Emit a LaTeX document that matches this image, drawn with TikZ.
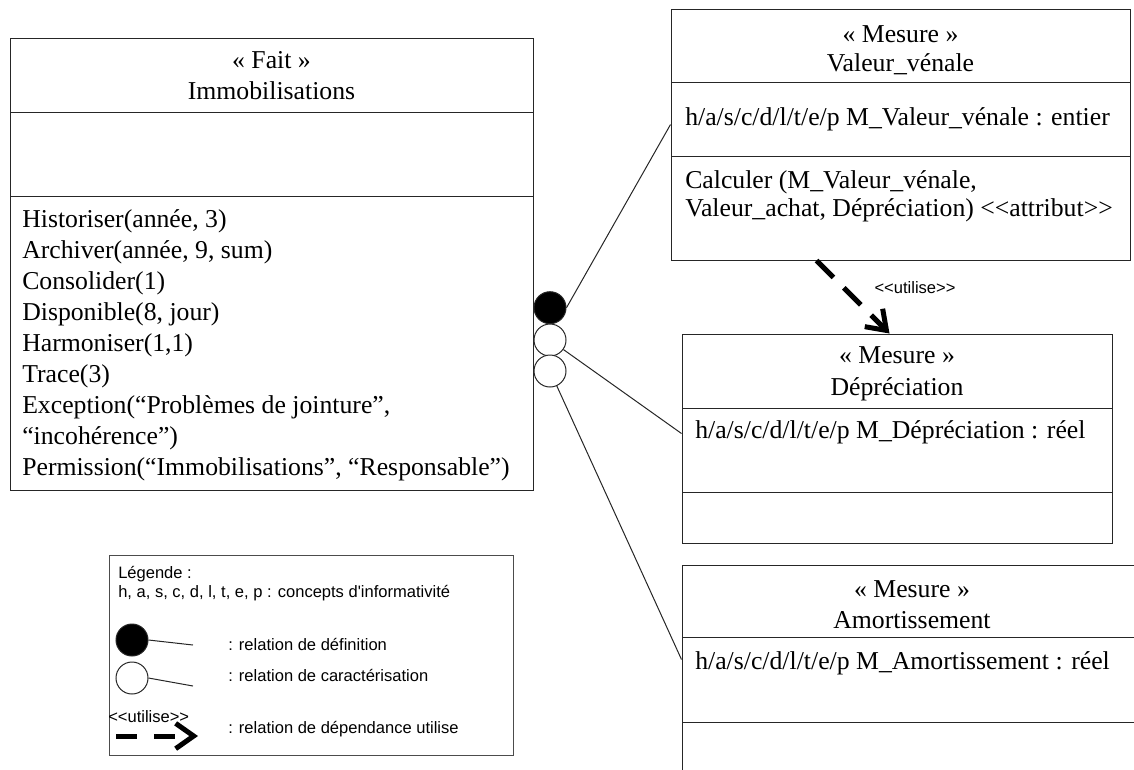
\documentclass[tikz,border=0pt]{standalone}
\usepackage{fontspec}
\setmainfont{Liberation Serif}[Ligatures=TeXOff]
\newfontfamily\legendfont{Liberation Sans}[Ligatures=TeXOff]
\usetikzlibrary{arrows.meta,fit,calc}
\begin{document}
\begin{tikzpicture}[x=0.75pt,y=-0.75pt,
  box/.style={draw=black!85, line width=0.75pt, inner sep=0pt},
  sep/.style={draw=black!85, line width=0.75pt},
  txt/.style={anchor=base west, inner sep=0pt, font=\fontsize{19.3}{22}\selectfont},
  ctxt/.style={anchor=base, inner sep=0pt, font=\fontsize{19.3}{22}\selectfont},
  ltxt/.style={anchor=base west, inner sep=0pt, font=\legendfont\fontsize{12.4}{15}\selectfont},
  link/.style={draw=black!85, line width=0.75pt},
  ball/.style={circle, draw=black!85, line width=0.75pt, minimum size=24pt, inner sep=0pt},
  dep/.style={line width=3.75pt, dash pattern=on 18pt off 11pt, -{Straight Barb[length=13.5pt,width=19pt]}},
]
\useasboundingbox (0,0) rectangle (1134,769);
\clip (0,0) rectangle (1134,769);

% ---- Fait box
\node[box, fit={(10,38) (533,490)}] (fait) {};
\draw[sep] (10,112) -- (533,112);
\draw[sep] (10,196) -- (533,196);
\node[ctxt] (fs) at (271.5,68) {« Fait »};
\node[ctxt] (fn) at (271.5,99) {Immobilisations};
\node[txt] (m1) at (22,227) {Historiser(année, 3)};
\node[txt] (m2) at (22,258) {Archiver(année, 9, sum)};
\node[txt] (m3) at (22,289) {Consolider(1)};
\node[txt] (m4) at (22,320) {Disponible(8, jour)};
\node[txt] (m5) at (22,351) {Harmoniser(1,1)};
\node[txt] (m6) at (22,382) {Trace(3)};
\node[txt] (m7) at (22,413) {Exception(“Problèmes de jointure”,};
\node[txt] (m8) at (22,444) {“incohérence”)};
\node[txt] (m9) at (22,475) {Permission(“Immobilisations”, “Responsable”)};

% ---- Valeur_vénale box
\node[box, fit={(671,9) (1130,260)}] (vv) {};
\draw[sep] (671,82) -- (1130,82);
\draw[sep] (671,156) -- (1130,156);
\node[ctxt] (vs) at (900.5,42) {« Mesure »};
\node[ctxt] (vn) at (900.5,71) {Valeur\_vénale};
\node[txt] (va) at (685,125) {h/a/s/c/d/l/t/e/p M\_Valeur\_vénale : entier};
\node[txt] (vm1) at (685,188) {Calculer (M\_Valeur\_vénale,};
\node[txt] (vm2) at (685,216) {Valeur\_achat, Dépréciation) <<attribut>>};

% ---- Dépréciation box
\node[box, fit={(682,334) (1112,543)}] (dp) {};
\draw[sep] (682,408) -- (1112,408);
\draw[sep] (682,492) -- (1112,492);
\node[ctxt] (ds) at (897,363) {« Mesure »};
\node[ctxt] (dn) at (897,395) {Dépréciation};
\node[txt] (da) at (695,438) {h/a/s/c/d/l/t/e/p M\_Dépréciation : réel};

% ---- Amortissement box
\node[box, fit={(682,565) (1142,800)}] (am) {};
\draw[sep] (682,637) -- (1142,637);
\draw[sep] (682,722) -- (1142,722);
\node[ctxt] (as) at (912,597) {« Mesure »};
\node[ctxt] (an) at (912,628) {Amortissement};
\node[txt] (aa) at (695,669) {h/a/s/c/d/l/t/e/p M\_Amortissement : réel};

% ---- connectors
\node[ball, fill=black] (d1) at (550,307.7) {};
\node[ball, fill=white] (k1) at (550,340) {};
\node[ball, fill=white] (k2) at (550,371) {};
\draw[link] (d1.east) -- ($(vv.north west)+(0,116)$);
\draw[link] (k1) -- ($(dp.north west)+(0,100)$);
\draw[link] (k2) -- ($(am.north west)+(0,95)$);

\draw[dep] ($(vv.south west)+(146,0)$) -- ($(dp.north west)+(208,0)$);
\node[ltxt, anchor=base] (ulab) at (915,293) {<<utilise>>};

% ---- legend
\node[box, draw=black!70, fit={(109,555) (513,755)}] (leg) {};
\node[ltxt] (l1) at (118,578) {Légende :};
\node[ltxt] (l2) at (118,597) {h, a, s, c, d, l, t, e, p : concepts d'informativité};
\node[ball, fill=black] (ld) at (132,640) {};
\node[ball, fill=white] (lk) at (132,678) {};
\coordinate (ldE) at (193,645);
\coordinate (lkE) at (193,686);
\draw[link] (ld.east) -- (ldE);
\draw[link] (lk.east) -- (lkE);
\node[ltxt] (l3) at (228,650) {: relation de définition};
\node[ltxt] (l4) at (228,681) {: relation de caractérisation};
\node[ltxt] (lu) at (108,722) {<<utilise>>};
\coordinate (la1) at (116,736);
\coordinate (la2) at (198,736);
\draw[dep, dash pattern=on 15.75pt off 12.75pt] (la1) -- (la2);
\node[ltxt] (l5) at (228,733) {: relation de dépendance utilise};
\end{tikzpicture}
\end{document}
